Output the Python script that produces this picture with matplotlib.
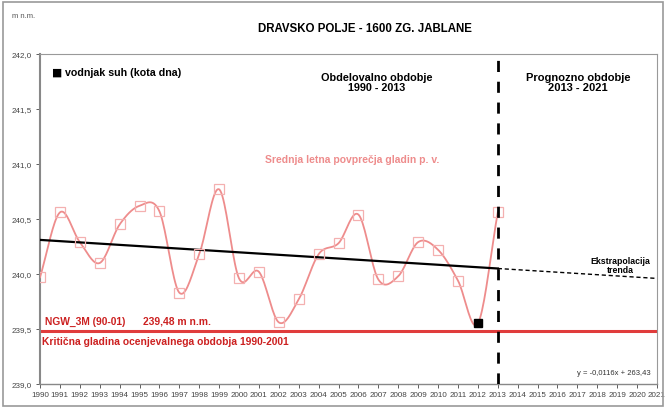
import numpy as np
import matplotlib
matplotlib.use("Agg")
import matplotlib.pyplot as plt
from matplotlib.ticker import FuncFormatter, MultipleLocator
from matplotlib.patches import Rectangle

plt.rcParams['font.family'] = ['Liberation Sans', 'DejaVu Sans']

years = list(range(1990, 2014))
levels = [239.97, 240.56, 240.29, 240.10, 240.45, 240.62, 240.57, 239.83,
          240.18, 240.77, 239.96, 240.02, 239.56, 239.77, 240.18, 240.28,
          240.54, 239.95, 239.98, 240.29, 240.22, 239.94, 239.55, 240.56]
dry_year = [2012]
dry_level = [239.55]
trend_slope = -0.0113
trend_at_1990 = 240.31
critical_level = 239.48
split_year = 2013
x_ticks = list(range(1990, 2022))

pink = '#EE8C8C'
red = '#E03C3C'
darkred = '#CC2020'


def catmull(xs, ys, n=20):
    xs = np.asarray(xs, float); ys = np.asarray(ys, float)
    px = np.concatenate([[2*xs[0]-xs[1]], xs, [2*xs[-1]-xs[-2]]])
    py = np.concatenate([[2*ys[0]-ys[1]], ys, [2*ys[-1]-ys[-2]]])
    outx, outy = [], []
    for i in range(1, len(px)-2):
        p0 = np.array([px[i], py[i]])
        p3 = np.array([px[i+1], py[i+1]])
        c1 = p0 + (np.array([px[i+1], py[i+1]]) - np.array([px[i-1], py[i-1]]))/6
        c2 = p3 - (np.array([px[i+2], py[i+2]]) - np.array([px[i], py[i]]))/6
        t = np.linspace(0, 1, n)[:, None]
        b = (1-t)**3*p0 + 3*(1-t)**2*t*c1 + 3*(1-t)*t**2*c2 + t**3*p3
        outx.extend(b[:, 0]); outy.extend(b[:, 1])
    return outx, outy


fig = plt.figure(figsize=(6.67, 4.10), dpi=100)
ax = fig.add_axes([40/667, 25/410, 617/667, 330/410])

sx, sy = catmull(years, levels)
ax.plot(sx, sy, color=pink, lw=1.3, zorder=3)
mx = [y for y in years if y not in dry_year]
my = [v for y, v in zip(years, levels) if y not in dry_year]
ax.plot(mx, my, ls='none', marker='s', ms=6.5, mfc='none', mec='#F4B0B0',
        mew=0.9, zorder=4)
ax.plot(dry_year, dry_level, ls='none', marker='s', ms=5.5, color='black', zorder=5)

# trend
tx = np.array([1990, split_year])
ax.plot(tx, trend_at_1990 + trend_slope*(tx-1990), color='black', lw=1.6, zorder=3)
ex = np.array([split_year, 2021])
ax.plot(ex, trend_at_1990 + trend_slope*(ex-1990), color='black', lw=1.0,
        ls=(0, (3, 2)), zorder=3)

ax.axhline(critical_level, color=red, lw=2.2, zorder=2)
ax.axvline(split_year, color='black', lw=2.0, ls=(0, (4, 3.5)), zorder=6)

ax.set_xlim(1990, 2021)
ax.set_ylim(239.0, 242.0)
ax.set_xticks(x_ticks)
ax.set_xticklabels([str(y) for y in x_ticks])
ax.yaxis.set_major_locator(MultipleLocator(0.5))
ax.yaxis.set_major_formatter(FuncFormatter(lambda v, p: f"{v:.1f}".replace('.', ',')))
ax.tick_params(axis='both', labelsize=5.8, colors='#444444', length=3,
               width=0.6, direction='out')
ax.tick_params(axis='y', pad=3)
ax.tick_params(axis='x', pad=2)
for s in ['left', 'bottom']:
    ax.spines[s].set_color('#888888'); ax.spines[s].set_linewidth(1.0)
for s in ['top', 'right']:
    ax.spines[s].set_color('#999999'); ax.spines[s].set_linewidth(0.8)
ax.spines['left'].set_linewidth(1.5)

# texts
fig.text(12/667, 1-17/410, 'm n.m.', fontsize=5.5, color='#555555', va='center')
fig.text(365/667, 1-29/410, 'DRAVSKO POLJE - 1600 ZG. JABLANE', fontsize=8.3,
         fontweight='bold', ha='center', va='center')
fig.text(51/667, 1-73/410, '■', fontsize=7.8, va='center', family=['DejaVu Sans'])
fig.text(65/667, 1-73/410, 'vodnjak suh (kota dna)', fontsize=7.7,
         fontweight='bold', va='center')
fig.text(377/667, 1-83/410, 'Obdelovalno obdobje\n1990 - 2013', fontsize=7.8,
         fontweight='bold', ha='center', va='center', linespacing=1.1)
fig.text(578/667, 1-83/410, 'Prognozno obdobje\n2013 - 2021', fontsize=8.0,
         fontweight='bold', ha='center', va='center', linespacing=1.1)
fig.text(265/667, 1-160/410, 'Srednja letna povprečja gladin p. v.', fontsize=7.5,
         fontweight='bold', color=pink, va='center')
fig.text(620/667, 1-266/410, 'Ekstrapolacija\ntrenda', fontsize=6.3,
         fontweight='bold', ha='center', va='center', linespacing=1.05)
fig.text(45/667, 1-322/410, 'NGW_3M (90-01)', fontsize=7.4, fontweight='bold',
         color=darkred, va='center')
fig.text(143/667, 1-322/410, '239,48 m n.m.', fontsize=7.4, fontweight='bold',
         color=darkred, va='center')
fig.text(42/667, 1-342/410, 'Kritična gladina ocenjevalnega obdobja 1990-2001',
         fontsize=7.4, fontweight='bold', color=darkred, va='center')
fig.text(651/667, 1-374/410, 'y = -0,0116x + 263,43', fontsize=5.5,
         color='#333333', ha='right', va='center')

fig.patches.append(Rectangle((3/667, 3/410), 660/667, 404/410, transform=fig.transFigure,
                             fill=False, edgecolor='#999999', lw=1.2))

fig.savefig('out.png', dpi=100)
